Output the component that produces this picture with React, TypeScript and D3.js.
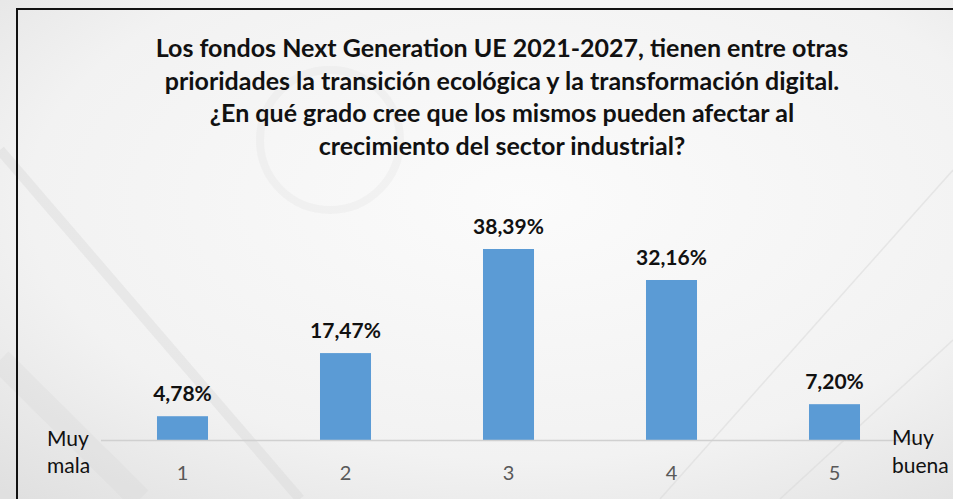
import { useEffect, useRef } from 'react';
import * as d3 from 'd3';

const categories = ['1', '2', '3', '4', '5'];
const values = [4.78, 17.47, 38.39, 32.16, 7.2];
const valueLabels = ['4,78%', '17,47%', '38,39%', '32,16%', '7,20%'];
const titleLines = [
  'Los fondos Next Generation UE 2021-2027, tienen entre otras',
  'prioridades la transición ecológica y la transformación digital.',
  '¿En qué grado cree que los mismos pueden afectar al',
  'crecimiento del sector industrial?',
];
const leftLabel = ['Muy', 'mala'];
const rightLabel = ['Muy', 'buena'];

const App = () => {
  const svgRef = useRef<SVGSVGElement>(null);

  useEffect(() => {
    document.body.style.margin = '0';
    const width = 953;
    const height = 499;
    const font = 'Lato, "Open Sans", sans-serif';

    const svg = d3.select(svgRef.current)
      .attr('width', width)
      .attr('height', height)
      .style('display', 'block');
    svg.selectAll('*').remove();

    // faded background
    const defs = svg.append('defs');
    const grad = defs.append('radialGradient')
      .attr('id', 'bg')
      .attr('cx', '55%').attr('cy', '40%').attr('r', '80%');
    grad.append('stop').attr('offset', '0%').attr('stop-color', '#fbfbfb');
    grad.append('stop').attr('offset', '65%').attr('stop-color', '#f2f2f2');
    grad.append('stop').attr('offset', '100%').attr('stop-color', '#e0e0e0');

    svg.append('rect')
      .attr('width', width)
      .attr('height', height)
      .attr('fill', 'url(#bg)');

    // faint drawing lines, like the photo behind
    const deco = svg.append('g').attr('stroke', '#d8d8d8').attr('fill', 'none');
    deco.append('line').attr('x1', 0).attr('y1', 150).attr('x2', 300).attr('y2', 499).attr('stroke-width', 10).attr('opacity', 0.4);
    deco.append('line').attr('x1', 0).attr('y1', 360).attr('x2', 140).attr('y2', 499).attr('stroke-width', 24).attr('opacity', 0.3);
    deco.append('line').attr('x1', 660).attr('y1', 499).attr('x2', 953).attr('y2', 170).attr('stroke-width', 1.5).attr('opacity', 0.5);
    deco.append('line').attr('x1', 780).attr('y1', 499).attr('x2', 953).attr('y2', 340).attr('stroke-width', 1.5).attr('opacity', 0.5);
    deco.append('circle').attr('cx', 330).attr('cy', 140).attr('r', 70).attr('stroke-width', 8).attr('opacity', 0.2);

    // frame
    svg.append('path')
      .attr('d', 'M17,499 V9 H953')
      .attr('fill', 'none')
      .attr('stroke', '#111')
      .attr('stroke-width', 2);

    // title
    svg.append('g')
      .attr('font-family', font)
      .attr('font-weight', 'bold')
      .attr('font-size', 25)
      .attr('text-anchor', 'middle')
      .attr('fill', '#111')
      .selectAll('text')
      .data(titleLines)
      .join('text')
      .attr('x', 502)
      .attr('y', (_, i) => 57 + i * 32.7)
      .text(d => d);

    const x = d3.scaleBand()
      .domain(categories)
      .range([101, 916])
      .paddingInner(0.687)
      .paddingOuter(0.3435);

    const y = d3.scaleLinear()
      .domain([0, 40])
      .range([440, 241]);

    // bars
    svg.append('g')
      .selectAll('rect')
      .data(values)
      .join('rect')
      .attr('x', (_, i) => x(categories[i]))
      .attr('y', d => y(d))
      .attr('width', x.bandwidth())
      .attr('height', d => y(0) - y(d))
      .attr('fill', '#5b9bd5');

    // axis line
    svg.append('line')
      .attr('x1', 101).attr('x2', 916)
      .attr('y1', y(0) + 0.5).attr('y2', y(0) + 0.5)
      .attr('stroke', '#d0d0d0')
      .attr('stroke-width', 1.5);

    // value labels
    svg.append('g')
      .attr('font-family', font)
      .attr('font-weight', 'bold')
      .attr('font-size', 21)
      .attr('text-anchor', 'middle')
      .attr('fill', '#111')
      .selectAll('text')
      .data(values)
      .join('text')
      .attr('x', (_, i) => x(categories[i]) + x.bandwidth() / 2)
      .attr('y', d => y(d) - 15)
      .text((_, i) => valueLabels[i]);

    // category labels
    svg.append('g')
      .attr('font-family', font)
      .attr('font-size', 20)
      .attr('text-anchor', 'middle')
      .attr('fill', '#595959')
      .selectAll('text')
      .data(categories)
      .join('text')
      .attr('x', d => x(d) + x.bandwidth() / 2)
      .attr('y', 480)
      .text(d => d);

    // end labels
    const ends = svg.append('g')
      .attr('font-family', font)
      .attr('font-size', 21)
      .attr('fill', '#111');
    ends.selectAll('text.l')
      .data(leftLabel)
      .join('text')
      .attr('class', 'l')
      .attr('x', 47)
      .attr('y', (_, i) => 446 + i * 27)
      .text(d => d);
    ends.selectAll('text.r')
      .data(rightLabel)
      .join('text')
      .attr('class', 'r')
      .attr('x', 892)
      .attr('y', (_, i) => 445 + i * 28)
      .text(d => d);
  }, []);

  return <svg ref={svgRef}></svg>;
};

export default App;
